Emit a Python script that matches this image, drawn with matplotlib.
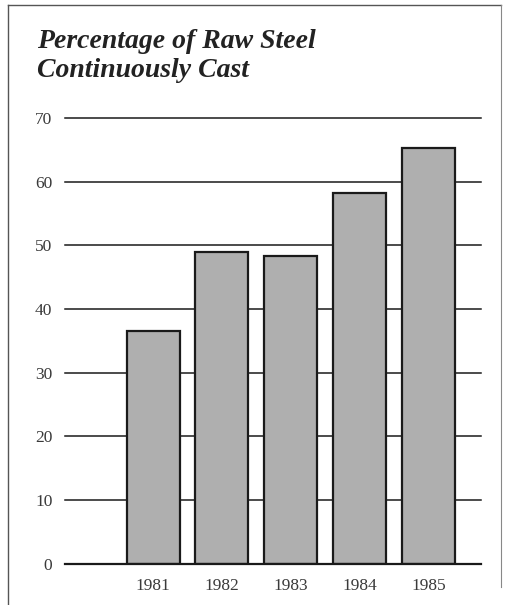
import matplotlib.pyplot as plt
from matplotlib.lines import Line2D

years = ["1981", "1982", "1983", "1984", "1985"]
pct_cast = [36.5, 49.0, 48.3, 58.2, 65.3]
y_ticks = [0, 10, 20, 30, 40, 50, 60, 70]

plt.rcParams['font.family'] = ['Liberation Serif', 'DejaVu Serif']

fig = plt.figure(figsize=(5.11, 6.05), dpi=100)
ax = fig.add_axes([0.127, 0.068, 0.814, 0.737])

x = list(range(len(years)))
ax.bar(x, pct_cast, width=0.77, color='#afafaf', edgecolor='#1a1a1a',
       linewidth=1.6, zorder=3)

# horizontal rules behind the bars
for t in y_ticks[1:]:
    ax.axhline(t, color='#1a1a1a', linewidth=1.1, zorder=1, clip_on=False)
ax.axhline(0, color='#1a1a1a', linewidth=1.6, zorder=4, clip_on=False)

ax.set_xlim(-1.28, 4.76)
ax.set_ylim(0, 70)
ax.set_xticks(x)
ax.set_xticklabels(years)
ax.set_yticks(y_ticks)
ax.set_yticklabels([str(t) for t in y_ticks])
ax.tick_params(length=0, labelsize=12.5, labelcolor='#3a3a3a')
ax.tick_params(axis='y', pad=9)
ax.tick_params(axis='x', pad=10)
for s in ax.spines.values():
    s.set_visible(False)

fig.text(0.072, 0.921, "Percentage of Raw Steel", fontsize=20,
         fontweight='bold', fontstyle='italic', color='#222222')
fig.text(0.072, 0.872, "Continuously Cast", fontsize=20,
         fontweight='bold', fontstyle='italic', color='#222222')

# page frame
fig.add_artist(Line2D([0.016, 0.98], [0.992, 0.992], color='#555555', linewidth=1.0))
fig.add_artist(Line2D([0.016, 0.016], [0.0, 0.992], color='#555555', linewidth=1.0))
fig.add_artist(Line2D([0.98, 0.98], [0.03, 0.992], color='#888888', linewidth=0.8))

fig.savefig("out.png", dpi=100)
